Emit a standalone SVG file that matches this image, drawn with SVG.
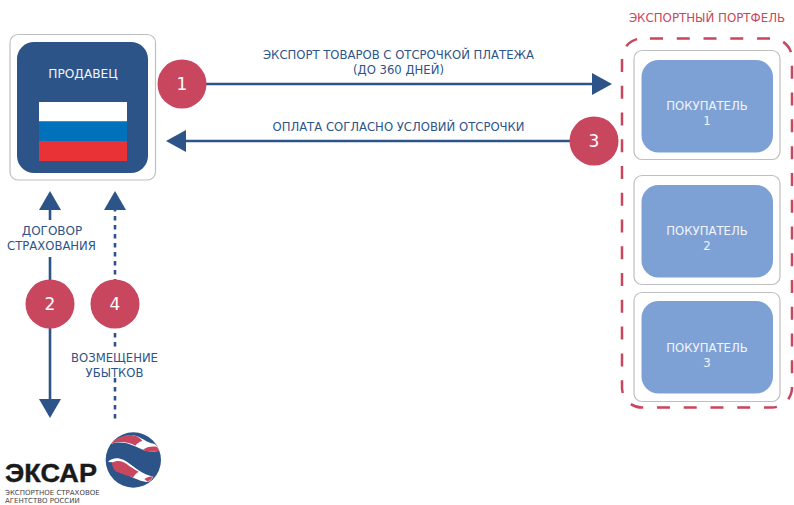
<svg xmlns="http://www.w3.org/2000/svg" width="794" height="505" viewBox="0 0 794 505">
<defs><style>
text{font-family:"DejaVu Sans",Verdana,sans-serif;text-anchor:middle}
.frame{fill:#fff;stroke:#bfbfbf;stroke-width:1.2}
.buyer{fill:#7ea1d5}
.wl{fill:#f2f5fa;font-size:11.7px}
.bl{fill:#2c5489;font-size:11.65px}
.ln{fill:none;stroke:#2c5489;stroke-width:2.6}
.dot{fill:none;stroke:#2c5489;stroke-width:2.6;stroke-dasharray:4.5 4.5}
.ah{fill:#2c5489}
.bad{fill:#c8465e}
.num{fill:#fff;font-size:17px}
</style></defs>
<rect width="794" height="505" fill="#fff"/>
<g id="connectors">
<path class="ln" d="M206 84H594"/><path class="ah" d="M592 73L612 84L592 95Z"/>
<path class="ln" d="M184 141H572"/><path class="ah" d="M186 130L166 141L186 152Z"/>
<path class="ln" d="M50 208V220M50 257V282M50 326V402"/><path class="ah" d="M50 191L61 210H39Z"/><path class="ah" d="M50 418L39 399H61Z"/>
<path class="dot" d="M115 207V284M115 333V351M115 378V418.500"/><path class="ah" d="M115 191L126 210H104Z"/>
</g>
<g id="seller">
<rect class="frame" x="10" y="34.500" width="145.500" height="145.500" rx="8"/>
<rect x="17" y="42" width="131" height="131" rx="17" fill="#2c5489"/>
<text class="wl" x="83" y="78" style="font-size:12.2px">ПРОДАВЕЦ</text>
<rect x="39" y="102" width="88" height="19.500" fill="#fff"/>
<rect x="39" y="121.500" width="88" height="20" fill="#0071bb"/>
<rect x="39" y="141" width="88" height="20" fill="#e93235"/>
</g>
<g id="portfolio">
<text x="707" y="22" fill="#c8465e" font-size="11.800">ЭКСПОРТНЫЙ ПОРТФЕЛЬ</text>
<rect x="622" y="38.500" width="170" height="369" rx="20" fill="none" stroke="#c8465e" stroke-width="2.500" stroke-dasharray="13 13.760" stroke-dashoffset="-8"/>
</g>
<g id="buyer1">
<rect class="frame" x="634" y="50.500" width="146" height="109" rx="8"/>
<rect class="buyer" x="641.500" y="60" width="131.500" height="92.500" rx="17"/>
<text class="wl" x="707" y="110">ПОКУПАТЕЛЬ</text><text class="wl" x="707" y="125">1</text>
</g>
<g id="buyer2">
<rect class="frame" x="634" y="175.500" width="146" height="109" rx="8"/>
<rect class="buyer" x="641.500" y="185" width="131.500" height="92.500" rx="17"/>
<text class="wl" x="707" y="235">ПОКУПАТЕЛЬ</text><text class="wl" x="707" y="250">2</text>
</g>
<g id="buyer3">
<rect class="frame" x="634" y="292.500" width="146" height="109" rx="8"/>
<rect class="buyer" x="641.500" y="301" width="131.500" height="92.500" rx="17"/>
<text class="wl" x="707" y="352">ПОКУПАТЕЛЬ</text><text class="wl" x="707" y="367">3</text>
</g>
<g id="labels">
<text class="bl" x="398.500" y="59">ЭКСПОРТ ТОВАРОВ С ОТСРОЧКОЙ ПЛАТЕЖА</text>
<text class="bl" x="398.500" y="74">(ДО 360 ДНЕЙ)</text>
<text class="bl" x="398.500" y="131">ОПЛАТА СОГЛАСНО УСЛОВИЙ ОТСРОЧКИ</text>
<text class="bl" x="52" y="235" style="font-size:12px">ДОГОВОР</text>
<text class="bl" x="51.500" y="250">СТРАХОВАНИЯ</text>
<text class="bl" x="114.500" y="362">ВОЗМЕЩЕНИЕ</text>
<text class="bl" x="114.500" y="377">УБЫТКОВ</text>
</g>
<g id="badge1"><circle class="bad" cx="182" cy="84" r="24.500"/><text class="num" x="182" y="90">1</text></g>
<g id="badge2"><circle class="bad" cx="50" cy="304" r="24.500"/><text class="num" x="50" y="310">2</text></g>
<g id="badge3"><circle class="bad" cx="594" cy="141" r="24.500"/><text class="num" x="594" y="147">3</text></g>
<g id="badge4"><circle class="bad" cx="115" cy="304" r="24.500"/><text class="num" x="115" y="310">4</text></g>
<g id="logo">
<g transform="translate(100 428) scale(.3333)">
<circle cx="100" cy="96" r="83" fill="#2c5489"/>
<path d="M32 48C50 30 80 20 100 22C125 26 140 46 162 47C170 50 172 56 178 68C160 72 140 72 125 64C95 50 70 36 32 48Z" fill="#fff"/>
<path d="M32 48C50 28 80 18 100 22C112 24 120 30 127 38C118 42 110 47 106 53C85 42 60 38 32 48Z" fill="#c8465e"/>
<path d="M128 66C140 57 155 54 171 57L178 68C160 72 145 72 128 66Z" fill="#c8465e"/>
<path d="M24 102C35 88 55 88 70 95C95 108 120 135 150 143L160 146C155 155 150 160 143 162C125 162 105 152 85 142C70 125 50 100 24 102Z" fill="#fff"/>
<path d="M36 104C50 96 66 98 80 108C92 117 102 124 116 131C108 136 102 142 100 148C80 144 60 136 46 130C40 122 36 112 36 104Z" fill="#c8465e"/>
<path d="M133 153C142 147 150 144 159 146C155 152 150 158 143 161C139 158 136 156 133 153Z" fill="#c8465e"/>
</g>
<text x="51" y="482" fill="#1a1a1a" font-size="26" font-weight="700" stroke="#1a1a1a" stroke-width=".4" style="font-family:'Liberation Sans',sans-serif" textLength="92" lengthAdjust="spacingAndGlyphs">ЭКСАР</text>
<text x="5" y="494.500" fill="#444" font-size="7" style="text-anchor:start">ЭКСПОРТНОЕ СТРАХОВОЕ</text>
<text x="5" y="503" fill="#444" font-size="7" style="text-anchor:start">АГЕНТСТВО РОССИИ</text>
</g>
</svg>
